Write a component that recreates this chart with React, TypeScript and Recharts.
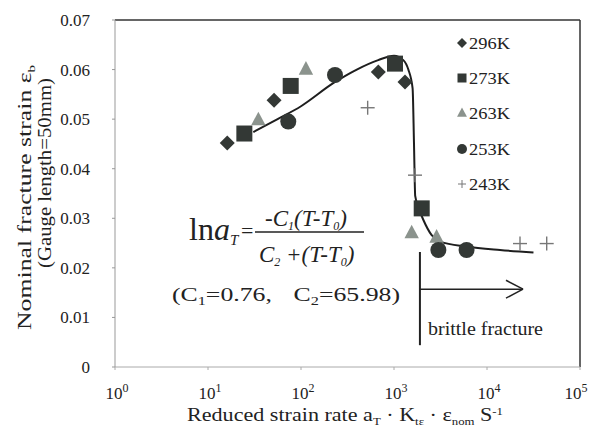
import React from 'react'
import { ComposedChart, Scatter, Line, XAxis, YAxis, ReferenceLine, Customized } from 'recharts'

// measured points, x = reduced strain rate (1/s), y = nominal fracture strain
const s296K = [
  { x: 16.1, y: 0.0452 },
  { x: 51.3, y: 0.0538 },
  { x: 678, y: 0.0595 },
  { x: 1313, y: 0.0575 },
]
const s273K = [
  { x: 24.6, y: 0.0471 },
  { x: 77.5, y: 0.0567 },
  { x: 1025, y: 0.0612 },
  { x: 1986, y: 0.032 },
]
const s263K = [
  { x: 34.8, y: 0.0499 },
  { x: 113, y: 0.0601 },
  { x: 1549, y: 0.0271 },
  { x: 2870, y: 0.0262 },
]
const s253K = [
  { x: 73, y: 0.0495 },
  { x: 232, y: 0.0589 },
  { x: 3000, y: 0.0236 },
  { x: 6030, y: 0.0236 },
]
const s243K = [
  { x: 521, y: 0.0523 },
  { x: 1682, y: 0.0387 },
  { x: 22640, y: 0.0249 },
  { x: 43850, y: 0.0249 },
]

// fitted master curve
const fitCurve = [
  { x: 30.7, y: 0.0474 },
  { x: 56, y: 0.05 },
  { x: 100, y: 0.0526 },
  { x: 224, y: 0.0573 },
  { x: 398, y: 0.06 },
  { x: 676, y: 0.0619 },
  { x: 1000, y: 0.0628 },
  { x: 1259, y: 0.0619 },
  { x: 1426, y: 0.06 },
  { x: 1585, y: 0.0562 },
  { x: 1641, y: 0.045 },
  { x: 1690, y: 0.0345 },
  { x: 1862, y: 0.0318 },
  { x: 2065, y: 0.0297 },
  { x: 2541, y: 0.0266 },
  { x: 3160, y: 0.0253 },
  { x: 6030, y: 0.0243 },
  { x: 13800, y: 0.0236 },
  { x: 31600, y: 0.0231 },
]

const xTicks = [1, 10, 100, 1000, 10000, 100000]
const yTicks = [0, 0.01, 0.02, 0.03, 0.04, 0.05, 0.06, 0.07]
const legendLabels = ['296K', '273K', '263K', '253K', '243K']

// brittle fracture marker (data coords)
const brittleX = 1900
const brittleTop = 0.0232
const brittleBottom = 0.0044
const arrowY = 0.0157
const arrowEndX = 24400
const arrowHeadX = 16000
const arrowHeadDy = 0.0018

const DARK = '#333835'
const TRI = '#8b938d'
const PLUS = '#777'
const FONT = 'Liberation Serif'

const Diamond = ({ cx, cy, r = 7.5, fill = DARK }: any) => (
  <path d={`M${cx},${cy - r}L${cx + r},${cy}L${cx},${cy + r}L${cx - r},${cy}Z`} fill={fill} />
)
const Square = ({ cx, cy, r = 8, fill = DARK }: any) => (
  <rect x={cx - r} y={cy - r} width={2 * r} height={2 * r} fill={fill} />
)
const Triangle = ({ cx, cy, r = 8, fill = TRI }: any) => (
  <path d={`M${cx},${cy - r}L${cx + r * 0.9},${cy + r * 0.7}L${cx - r * 0.9},${cy + r * 0.7}Z`} fill={fill} />
)
const Circle = ({ cx, cy, r = 8, fill = DARK }: any) => <circle cx={cx} cy={cy} r={r} fill={fill} />
const Plus = ({ cx, cy, r = 7, stroke = PLUS, w = 1.4 }: any) => (
  <g stroke={stroke} strokeWidth={w}>
    <line x1={cx - r} y1={cy} x2={cx + r} y2={cy} />
    <line x1={cx} y1={cy - r} x2={cx} y2={cy + r} />
  </g>
)

const XTick = ({ x, y, payload }: any) => {
  const exp = Math.round(Math.log10(payload.value))
  return (
    <text x={x + 2} y={y + 27} textAnchor="middle" fontFamily={FONT} fontSize={17} fill="#222">
      10<tspan dy={-7} fontSize={12}>{exp}</tspan>
    </text>
  )
}

const YTick = ({ x, y, payload }: any) => (
  <text x={x} y={y + 6} textAnchor="end" fontFamily={FONT} fontSize={17} fill="#222">
    {payload.value === 0 ? '0' : payload.value.toFixed(2)}
  </text>
)

const Annotations = () => {
  const legendRows = [43, 78, 113, 149, 184]
  const markers = [
    (cy: number) => <Diamond cx={462} cy={cy} r={5} />,
    (cy: number) => <Square cx={462} cy={cy} r={4.5} />,
    (cy: number) => <Triangle cx={462} cy={cy} r={5.5} />,
    (cy: number) => <Circle cx={462} cy={cy} r={5} />,
    (cy: number) => <Plus cx={462} cy={cy} r={4} w={1} />,
  ]
  return (
    <g fontFamily={FONT} fill="#222">
      {legendLabels.map((lab, i) => (
        <g key={lab}>
          {markers[i](legendRows[i])}
          <text x={469} y={legendRows[i] + 6} fontSize={17} textLength={41} lengthAdjust="spacingAndGlyphs">{lab}</text>
        </g>
      ))}

      {/* WLF shift equation */}
      <text x={189} y={240} fontSize={32}>
        ln<tspan fontStyle="italic">a</tspan>
        <tspan fontStyle="italic" fontSize={15} dy={5}>T</tspan>
      </text>
      <text x={241} y={238} fontSize={22}>=</text>
      <line x1={255} y1={232} x2={364} y2={232} stroke="#222" strokeWidth={1.3} />
      <text x={265} y={226} fontSize={23} fontStyle="italic">
        -C<tspan fontSize={12} dy={4}>1</tspan><tspan dy={-4}>(T-T</tspan>
        <tspan fontSize={12} dy={4}>0</tspan><tspan dy={-4}>)</tspan>
      </text>
      <text x={259} y={262} fontSize={23} fontStyle="italic">
        C<tspan fontSize={12} dy={4}>2</tspan><tspan dy={-4}> +(T-T</tspan>
        <tspan fontSize={12} dy={4}>0</tspan><tspan dy={-4}>)</tspan>
      </text>
      <text x={172} y={301} fontSize={19} textLength={228} lengthAdjust="spacingAndGlyphs">
        (C<tspan fontSize={12} dy={4}>1</tspan><tspan dy={-4}>=0.76,</tspan>
        <tspan dx={16}>C</tspan>
        <tspan fontSize={12} dy={4}>2</tspan><tspan dy={-4}>=65.98)</tspan>
      </text>

      <text x={428} y={335} fontSize={18} textLength={115} lengthAdjust="spacingAndGlyphs">brittle fracture</text>

      {/* axis titles */}
      <text x={187} y={421} fontSize={19} textLength={316} lengthAdjust="spacingAndGlyphs">
        Reduced strain rate a<tspan fontSize={11} dy={4}>T</tspan>
        <tspan dy={-4}> · K</tspan><tspan fontSize={11} dy={4}>tε</tspan>
        <tspan dy={-4}> · ε</tspan><tspan fontSize={11} dy={4}>nom</tspan>
        <tspan dy={-4}> S</tspan><tspan fontSize={11} dy={-6}>-1</tspan>
      </text>
      <text transform="translate(31,330) rotate(-90)" fontSize={19} textLength={265} lengthAdjust="spacingAndGlyphs">
        Nominal fracture strain ε<tspan fontSize={11} dy={4}>b</tspan>
      </text>
      <text transform="translate(51,268) rotate(-90)" fontSize={19} textLength={190} lengthAdjust="spacingAndGlyphs">
        (Gauge length=50mm)
      </text>
    </g>
  )
}

export default function App() {
  return (
    <div style={{ position: 'absolute', left: 0, top: 0, background: '#fff' }}>
      <ComposedChart width={598} height={439} margin={{ top: 20, right: 18, left: 0, bottom: 0 }}>
        <XAxis
          type="number"
          dataKey="x"
          scale="log"
          domain={[1, 100000]}
          ticks={xTicks}
          allowDataOverflow
          height={72}
          stroke="#aaa"
          tickSize={3}
          tick={<XTick />}
        />
        <YAxis
          type="number"
          dataKey="y"
          domain={[0, 0.07]}
          ticks={yTicks}
          allowDataOverflow
          width={115}
          stroke="#999"
          tickSize={3}
          tickMargin={22}
          tick={<YTick />}
        />
        <ReferenceLine y={0.07} stroke="#333" strokeWidth={1.5} />
        <ReferenceLine x={100000} stroke="#333" strokeWidth={1.5} />
        <ReferenceLine
          segment={[{ x: brittleX, y: brittleTop }, { x: brittleX, y: brittleBottom }]}
          stroke="#222"
          strokeWidth={2}
        />
        <ReferenceLine
          segment={[{ x: brittleX, y: arrowY }, { x: arrowEndX, y: arrowY }]}
          stroke="#222"
          strokeWidth={1.5}
        />
        <ReferenceLine
          segment={[{ x: arrowHeadX, y: arrowY + arrowHeadDy }, { x: arrowEndX, y: arrowY }]}
          stroke="#222"
          strokeWidth={1.5}
        />
        <ReferenceLine
          segment={[{ x: arrowHeadX, y: arrowY - arrowHeadDy }, { x: arrowEndX, y: arrowY }]}
          stroke="#222"
          strokeWidth={1.5}
        />
        <Line
          data={fitCurve}
          dataKey="y"
          type="monotone"
          stroke="#1e1e1e"
          strokeWidth={2}
          dot={false}
          activeDot={false}
          isAnimationActive={false}
        />
        <Scatter data={s296K} dataKey="y" isAnimationActive={false} shape={(p: any) => <Diamond cx={p.cx} cy={p.cy} />} />
        <Scatter data={s273K} dataKey="y" isAnimationActive={false} shape={(p: any) => <Square cx={p.cx} cy={p.cy} />} />
        <Scatter data={s263K} dataKey="y" isAnimationActive={false} shape={(p: any) => <Triangle cx={p.cx} cy={p.cy} />} />
        <Scatter data={s253K} dataKey="y" isAnimationActive={false} shape={(p: any) => <Circle cx={p.cx} cy={p.cy} />} />
        <Scatter data={s243K} dataKey="y" isAnimationActive={false} shape={(p: any) => <Plus cx={p.cx} cy={p.cy} />} />
        <Customized component={Annotations} />
      </ComposedChart>
    </div>
  )
}
